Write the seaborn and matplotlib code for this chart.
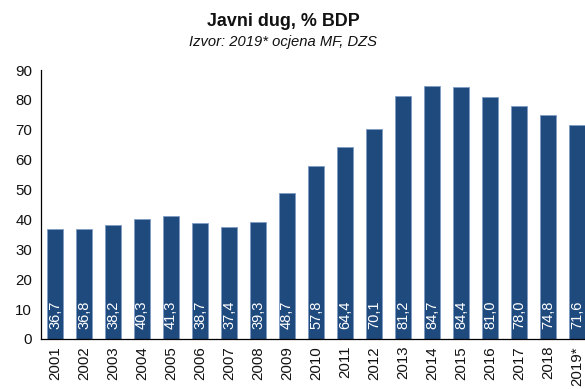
import matplotlib
matplotlib.use("Agg")
import matplotlib.pyplot as plt
import seaborn as sns
import pandas as pd
import numpy as np
from matplotlib.ticker import FixedLocator

years = ["2001", "2002", "2003", "2004", "2005", "2006", "2007", "2008", "2009", "2010",
         "2011", "2012", "2013", "2014", "2015", "2016", "2017", "2018", "2019*"]
values = [36.7, 36.8, 38.2, 40.3, 41.3, 38.7, 37.4, 39.3, 48.7, 57.8,
          64.4, 70.1, 81.2, 84.7, 84.4, 81.0, 78.0, 74.8, 71.6]
yticks = [0, 10, 20, 30, 40, 50, 60, 70, 80, 90]

sns.set_style("white")
plt.rcParams['font.family'] = ['Liberation Sans', 'DejaVu Sans']

fig = plt.figure(figsize=(5.85, 3.89), dpi=100)
ax = fig.add_axes([40.5/585, 50/389, 19*29.0/585, 269/389])

df = pd.DataFrame({"year": years, "value": values})
sns.barplot(data=df, x="year", y="value", color="#1f4a7e", width=0.57,
            edgecolor="#7f9cc4", linewidth=0.6, saturation=1, ax=ax)

ax.set_xlim(-0.5, len(years) - 0.5)
ax.set_ylim(0, 90)
ax.set_yticks(yticks)
ax.set_yticklabels([str(t) for t in yticks], fontsize=10.8, color="#111111")
ax.set_xlabel("")
ax.set_ylabel("")
ax.set_xticks(range(len(years)))
ax.set_xticklabels(years, rotation=90, fontsize=10.8, color="#111111")
ax.xaxis.set_minor_locator(FixedLocator(np.arange(-0.5, len(years), 1.0)))
ax.tick_params(axis="x", which="major", length=0, pad=5)
ax.tick_params(axis="x", which="minor", direction="inout", length=7, width=0.9, color="black")
ax.tick_params(axis="y", which="major", direction="inout", length=6, width=0.9, color="black", pad=3)

for s in ["top", "right"]:
    ax.spines[s].set_visible(False)
for s in ["left", "bottom"]:
    ax.spines[s].set_color("black")
    ax.spines[s].set_linewidth(0.9)

for i, v in enumerate(values):
    ax.text(i, 3.2, f"{v:.1f}".replace(".", ","), rotation=90, ha="center", va="bottom",
            color="white", fontsize=10.5)

fig.text(283/585, 1 - 22/389, "Javni dug, % BDP", ha="center", va="center",
         fontsize=12.9, fontweight="bold", color="#111111")
fig.text(283/585, 1 - 42/389, "Izvor: 2019* ocjena MF, DZS", ha="center", va="center",
         fontsize=10.6, style="italic", color="#111111")

fig.savefig("out.png", dpi=100)
